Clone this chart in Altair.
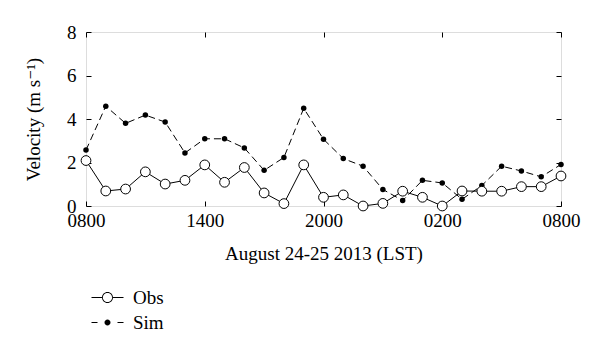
import altair as alt
import pandas as pd

hours = list(range(25))
obs = [2.09, 0.69, 0.78, 1.57, 1.01, 1.18, 1.89, 1.09, 1.77, 0.60, 0.11, 1.89,
       0.40, 0.51, 0.00, 0.12, 0.68, 0.40, 0.00, 0.69, 0.68, 0.68, 0.89, 0.89, 1.38]
sim = [2.57, 4.59, 3.80, 4.18, 3.86, 2.44, 3.09, 3.09, 2.67, 1.64, 2.23, 4.49,
       3.07, 2.18, 1.83, 0.76, 0.25, 1.18, 1.06, 0.31, 0.94, 1.83, 1.61, 1.34, 1.91]
series_names = ["Obs", "Sim"]
x_tick_values = [0, 6, 12, 18, 24]
x_tick_labels = ["0800", "1400", "2000", "0200", "0800"]
y_tick_values = [0, 2, 4, 6, 8]

W, H = 475, 174
FONT = "Liberation Serif, 'Times New Roman', 'DejaVu Serif', serif"
FS = 19

df = pd.DataFrame({
    "hour": hours * 2,
    "v": obs + sim,
    "series": ["Obs"] * len(hours) + ["Sim"] * len(hours),
})

label_expr = "[" + ",".join(f"'{s}'" for s in x_tick_labels) + "][round(datum.value/6)]"

xscale = alt.Scale(domain=[0, 24], nice=False, zero=False)
yscale = alt.Scale(domain=[0, 8], nice=False)

def tick_axis(orient, offset, values):
    return alt.Axis(orient=orient, offset=offset, values=values, labels=False,
                    ticks=True, tickSize=5, tickColor="black", tickWidth=1,
                    domain=False, grid=False, title=None)

x_main = alt.Axis(orient="bottom", values=x_tick_values, labelExpr=label_expr, ticks=False,
                  domain=False, grid=False, labelFlush=False, labelOverlap=False,
                  labelPadding=5, labelFont=FONT, labelFontSize=FS, labelColor="black",
                  title="August 24-25 2013 (LST)", titleFont=FONT, titleFontSize=FS,
                  titleFontWeight="normal", titleColor="black", titlePadding=14)
y_main = alt.Axis(orient="left", values=y_tick_values, ticks=False, domain=False, grid=False,
                  labelPadding=10, labelFont=FONT, labelFontSize=FS, labelColor="black",
                  labelFlush=False, labelOverlap=False,
                  title="Velocity (m s\u207b\u00b9)", titleFont=FONT, titleFontSize=FS,
                  titleFontWeight="normal", titleColor="black", titlePadding=23)

base = alt.Chart(df)

obs_sel = alt.datum.series == "Obs"
sim_sel = alt.datum.series == "Sim"

sim_line = base.transform_filter(sim_sel).mark_line(
    color="black", strokeWidth=1, strokeDash=[7, 4]).encode(
    x=alt.X("hour:Q", scale=xscale, axis=tick_axis("bottom", -H, x_tick_values)),
    y=alt.Y("v:Q", scale=yscale, axis=tick_axis("left", -W, y_tick_values)),
)
sim_pts = base.transform_filter(sim_sel).mark_point(
    shape="circle", filled=True, color="black", size=30, opacity=1).encode(
    x=alt.X("hour:Q", scale=xscale, axis=None),
    y=alt.Y("v:Q", scale=yscale, axis=None),
)
obs_line = base.transform_filter(obs_sel).mark_line(
    color="black", strokeWidth=1).encode(
    x=alt.X("hour:Q", scale=xscale, axis=x_main),
    y=alt.Y("v:Q", scale=yscale, axis=y_main),
)
obs_pts = base.transform_filter(obs_sel).mark_point(
    shape="circle", fill="white", stroke="black", strokeWidth=1, size=95,
    opacity=1, fillOpacity=1).encode(
    x=alt.X("hour:Q", scale=xscale, axis=tick_axis("top", -H, x_tick_values)),
    y=alt.Y("v:Q", scale=yscale, axis=tick_axis("right", -W, y_tick_values)),
)

# legend symbols drawn as filled paths (1 unit = 1 px with size 4)
obs_path = ("M-16,-0.5H-5.5V0.5H-16Z M5.5,-0.5H16V0.5H5.5Z "
            "M5.5,0A5.5,5.5 0 1,1 -5.5,0A5.5,5.5 0 1,1 5.5,0Z "
            "M4.6,0A4.6,4.6 0 1,0 -4.6,0A4.6,4.6 0 1,0 4.6,0Z")
sim_path = ("M-16,-0.5H-10V0.5H-16Z M10,-0.5H16V0.5H10Z "
            "M3,0A3,3 0 1,1 -3,0A3,3 0 1,1 3,0Z")

legend = alt.Legend(orient="none", legendX=12, legendY=256, title=None,
                    padding=0, offset=0, direction="vertical",
                    symbolSize=4, symbolFillColor="black", symbolStrokeWidth=0,
                    symbolStrokeColor="black", symbolOpacity=1,
                    labelFont=FONT, labelFontSize=FS, labelColor="black",
                    labelOffset=16, rowPadding=5)

legend_layer = base.transform_filter(alt.datum.hour < 0).mark_point(
    filled=True, color="black", opacity=0).encode(
    x=alt.X("hour:Q", scale=xscale, axis=None),
    y=alt.Y("v:Q", scale=yscale, axis=None),
    shape=alt.Shape("series:N", scale=alt.Scale(domain=series_names,
                                                range=[obs_path, sim_path]),
                    legend=legend),
)

chart = alt.layer(sim_line, sim_pts, obs_line, obs_pts, legend_layer).resolve_axis(
    x="independent", y="independent"
).properties(
    width=W, height=H,
    autosize=alt.AutoSizeParams(type="none"),
    padding={"left": 86, "top": 32, "right": 39, "bottom": 148},
).configure_view(stroke="black", strokeWidth=1).configure(background="white")

chart.save("out.html", embed_options={"renderer": "svg", "actions": False})
